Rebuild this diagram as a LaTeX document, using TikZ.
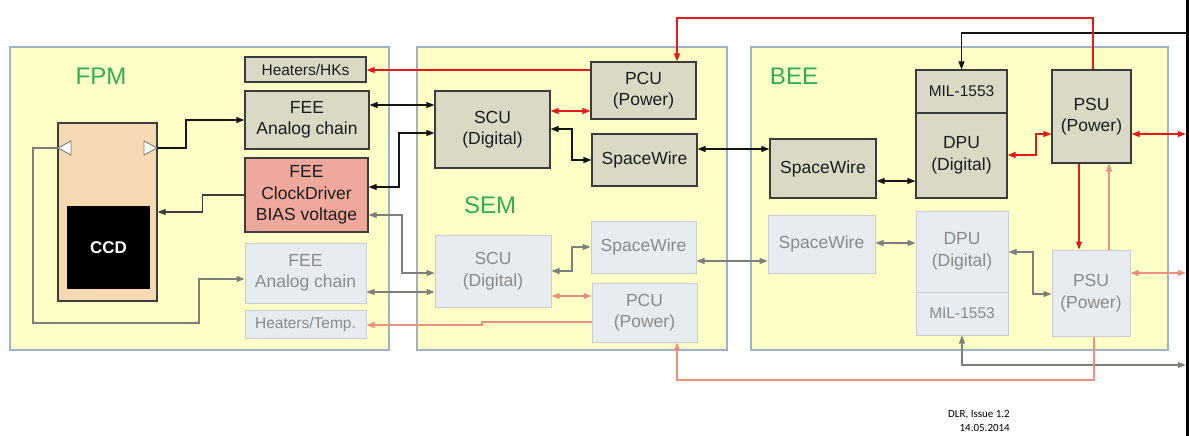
\documentclass[tikz,border=0pt]{standalone}
\usepackage{fontspec}
\setmainfont{Liberation Sans}
\newfontfamily\calibfont{Carlito}
\usetikzlibrary{arrows.meta}
\definecolor{panelfill}{HTML}{FFFFC8}
\definecolor{panelline}{HTML}{9FB3C6}
\definecolor{dboxfill}{HTML}{DAD9C6}
\definecolor{dboxline}{HTML}{3C3C3C}
\definecolor{dtext}{HTML}{1C1C1C}
\definecolor{lboxfill}{HTML}{E7ECF1}
\definecolor{lboxline}{HTML}{C9CED3}
\definecolor{ltext}{HTML}{8A8A8A}
\definecolor{salmonbox}{HTML}{EFA99C}
\definecolor{peach}{HTML}{F6D8B2}
\definecolor{titlegreen}{HTML}{2EB04E}
\definecolor{redline}{HTML}{E31A1A}
\definecolor{salmonline}{HTML}{EC9181}
\definecolor{grayline}{HTML}{7E7E7A}
\definecolor{darkline}{HTML}{151515}
\begin{document}
\begin{tikzpicture}[x=1pt,y=-1pt,
  >={Triangle[length=8pt,width=6pt]},
  panel/.style={draw=panelline, fill=panelfill, line width=2pt},
  dbox/.style={draw=dboxline, fill=dboxfill, line width=1.1pt, inner sep=0pt,
    align=center, text=dtext, font=\fontsize{17.5}{21.5}\selectfont},
  lbox/.style={draw=lboxline, fill=lboxfill, line width=1pt, inner sep=0pt,
    align=center, text=ltext, font=\fontsize{17.5}{21.5}\selectfont},
  smallfont/.style={font=\fontsize{15.5}{18}\selectfont},
  ptitle/.style={text=titlegreen, font=\fontsize{24}{28}\selectfont},
  cblack/.style={draw=darkline, line width=1.1pt},
  cdark/.style={draw=dboxline, line width=1.1pt},
  cred/.style={draw=redline, line width=1.1pt},
  csalmon/.style={draw=salmonline, line width=1.1pt},
  cgray/.style={draw=grayline, line width=1.1pt},
  tri/.style={draw=grayline, fill=white, line width=0.9pt, line join=miter}
]
\useasboundingbox (0,0) rectangle (1189,436);
\fill[white] (0,0) rectangle (1189,436);

% panels
\draw[panel] (10,47) rectangle (389,350);
\draw[panel] (417,47) rectangle (727,350);
\draw[panel] (751,47) rectangle (1168,350);
\node[ptitle] (tfpm) at (101,76) {FPM};
\node[ptitle] (tsem) at (490,205) {SEM};
\node[ptitle] (tbee) at (794,76) {BEE};

% FPM
\node[draw=dboxline, fill=peach, line width=1.1pt, minimum width=99pt, minimum height=178pt, inner sep=0pt] (ccdo) at (107.5,212) {};
\node[fill=black, minimum width=83pt, minimum height=83pt, inner sep=0pt, text=white, font=\bfseries\fontsize{17}{20}\selectfont] (ccd) at (108.5,247.5) {CCD};
\draw[tri] (144,141) -- (157,148) -- (144,155) -- cycle;
\draw[tri] (71,141) -- (58,148) -- (71,155) -- cycle;
\coordinate (triR) at (157,148);
\coordinate (triL) at (58,148);

\node[dbox, smallfont, minimum width=121pt, minimum height=25pt] (hhk) at (305.5,69.5) {Heaters/HKs};
\node[dbox, minimum width=124pt, minimum height=58pt] (feeA) at (307,120) {FEE\\Analog chain};
\node[dbox, fill=salmonbox, minimum width=123pt, minimum height=74pt] (feeC) at (306.5,195) {FEE\\ClockDriver\\BIAS voltage};
\node[lbox, minimum width=121pt, minimum height=60pt] (feeAl) at (305.5,273) {FEE\\Analog chain};
\node[lbox, smallfont, minimum width=121pt, minimum height=28pt] (hte) at (305.5,324) {Heaters/Temp.};

% SEM
\node[dbox, minimum width=105pt, minimum height=57pt] (pcu) at (643.5,90.5) {PCU\\(Power)};
\node[dbox, minimum width=115pt, minimum height=77pt] (scu) at (492.5,129.5) {SCU\\(Digital)};
\node[dbox, minimum width=105pt, minimum height=52pt] (spw) at (644.5,160) {SpaceWire};
\node[lbox, minimum width=105pt, minimum height=52pt] (spwL) at (643.5,247) {SpaceWire};
\node[lbox, minimum width=116pt, minimum height=72pt] (scuL) at (493,271) {SCU\\(Digital)};
\node[lbox, minimum width=105pt, minimum height=59pt] (pcuL) at (644.5,312.5) {PCU\\(Power)};

% BEE
\node[dbox, smallfont, minimum width=91pt, minimum height=43pt] (mil) at (961.5,91.5) {MIL-1553};
\node[dbox, minimum width=91pt, minimum height=85pt] (dpu) at (961.5,155.5) {DPU\\(Digital)};
\node[dbox, minimum width=79pt, minimum height=93pt] (psu) at (1091.5,116.5) {PSU\\(Power)};
\node[dbox, minimum width=106pt, minimum height=59pt] (bspw) at (823,168.5) {SpaceWire};
\node[lbox, minimum width=107pt, minimum height=58pt] (bspwL) at (821.5,244) {SpaceWire};
\node[lbox, minimum width=92pt, minimum height=81pt] (dpuL) at (962,251.5) {DPU\\(Digital)};
\node[lbox, smallfont, minimum width=92pt, minimum height=43pt] (milL) at (962,313.5) {MIL-1553};
\node[lbox, minimum width=78pt, minimum height=86pt] (psuL) at (1091,293) {PSU\\(Power)};

% right edge bar
\node[fill=black, minimum width=3pt, minimum height=436pt, inner sep=0pt] (bar) at (1187.5,218) {};

% FPM connectors
\draw[cblack,->] (triR) -- ++(29,0) |- (feeA.west);
\draw[cdark,->] (feeC.west) -- ++(-42,0) |- (ccdo.east);
\draw[cgray,->] (triL) -- ++(-25,0) -- ++(0,175) -- ++(166,0) |- (feeAl.west |- 0,279);

% FPM <-> SEM
\draw[cred,->] (pcu.west |- 0,70) -- (hhk.east |- 0,70);
\draw[cblack,<->] (feeA.east |- 0,105) -- (scu.west |- 0,105);
\draw[cblack,<->] (feeC.east |- 0,187) -- (399,187) |- (scu.west |- 0,133);
\draw[cgray,<->] (feeC.east |- 0,215) -- (402,215) |- (scuL.west |- 0,273);
\draw[cgray,<->] (feeAl.east |- 0,292) -- (scuL.west |- 0,292);
\draw[csalmon,->] (pcuL.west |- 0,322) -- (482,322) -- (482,325) -- (hte.east |- 0,325);

% SEM internal
\draw[cred,<->] (scu.east |- 0,111) -- (pcu.west |- 0,111);
\draw[cblack,<->] (scu.east |- 0,129) -- (572,129) |- (spw.west);
\draw[cgray,<->] (scuL.east |- 0,271) -- (572,271) |- (spwL.west);
\draw[csalmon,<->] (scuL.east |- 0,296) -- (pcuL.west |- 0,296);

% SEM <-> BEE
\draw[cblack,<->] (spw.east |- 0,149) -- (bspw.west |- 0,149);
\draw[cgray,<->] (spwL.east |- 0,261) -- (bspwL.west |- 0,261);

% BEE internal
\draw[cblack,<->] (bspw.east |- 0,181) -- (dpu.west |- 0,181);
\draw[cred,<->] (dpu.east |- 0,155) -- (1036,155) |- (psu.west |- 0,134);
\draw[cred,<->] (psu.east |- 0,134) -- (bar.west |- 0,134);
\draw[cblack,->] (bar.west |- 0,33) -| (mil.north);
\draw[cred,->] (psu.north -| 1093,0) |- (677,18) -- (pcu.north -| 677,0);
\draw[cred,->] (psu.south -| 1079,0) -- (psuL.north -| 1079,0);
\draw[csalmon,->] (psuL.north -| 1109,0) -- (psu.south -| 1109,0);
\draw[cgray,<->] (bspwL.east |- 0,243) -- (dpuL.west |- 0,243);
\draw[cgray,<->] (dpuL.east |- 0,252) -- (1033,252) |- (psuL.west |- 0,294);
\draw[csalmon,<->] (psuL.east |- 0,273) -- (bar.west |- 0,273);
\draw[cgray,<->] (bar.west |- 0,365) -| (milL.south);
\draw[csalmon,->] (psuL.south -| 1094,0) |- (677,380) -- (pcuL.south -| 677,0);

% footer
\node[anchor=east, align=right, inner sep=0pt, text=black, font=\calibfont\fontsize{11}{14}\selectfont] (foot) at (1010,420.5) {DLR, Issue 1.2\\14.05.2014};
\end{tikzpicture}
\end{document}
